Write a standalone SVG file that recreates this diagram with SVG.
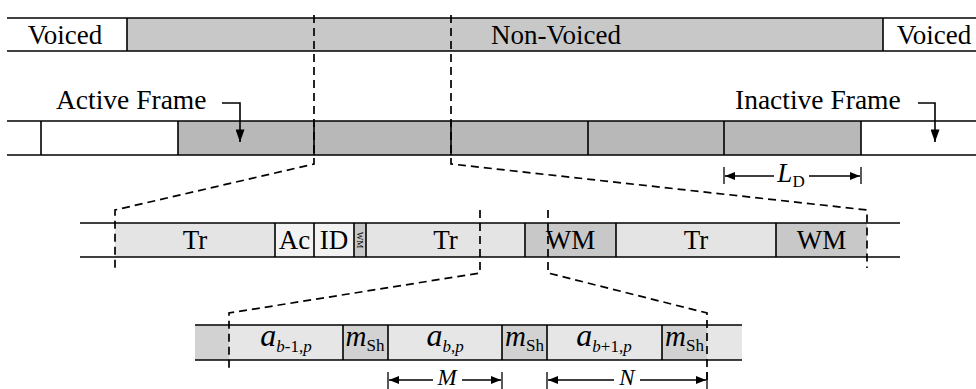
<svg xmlns="http://www.w3.org/2000/svg" width="976" height="389" viewBox="0 0 976 389">
  <style>
    .ln { stroke: #000; stroke-width: 1.6; fill: none; }
    .div { stroke: #000; stroke-width: 1.6; }
    .dash { stroke: #000; stroke-width: 1.7; fill: none; stroke-dasharray: 8 5; }
    .t { font-family: "Liberation Serif", "Times New Roman", serif; font-size: 27px; fill: #000; text-anchor: middle; }
    .tl { font-family: "Liberation Serif", "Times New Roman", serif; font-size: 27.5px; fill: #000; }
    .mi { font-family: "Liberation Serif", "Times New Roman", serif; font-style: italic; }
    .sub { font-family: "Liberation Serif", "Times New Roman", serif; font-size: 17px; }
    .dim { stroke: #000; stroke-width: 1.3; fill: none; }
  </style>
  <defs>
    <marker id="ah" viewBox="0 0 10 10" refX="10" refY="5" markerWidth="10" markerHeight="10" markerUnits="userSpaceOnUse" orient="auto">
      <path d="M0,1 L10,5 L0,9 Z" fill="#000"/>
    </marker>
    <marker id="ahBig" viewBox="0 0 10 14" refX="5" refY="14" markerWidth="9" markerHeight="14" markerUnits="userSpaceOnUse" orient="0">
      <path d="M0,0 L10,0 L5,14 Z" fill="#000"/>
    </marker>
  </defs>

  <!-- Row 1: voicing segments -->
  <g id="voiced-left">
    <rect x="7" y="18" width="120" height="33" fill="#fff"/>
    <text class="t" x="65" y="44">Voiced</text>
  </g>
  <g id="non-voiced">
    <rect x="127" y="18" width="756" height="33" fill="#c8c8c8"/>
    <text class="t" x="556" y="44">Non-Voiced</text>
  </g>
  <g id="voiced-right">
    <rect x="883" y="18" width="93" height="33" fill="#fff"/>
    <text class="t" x="934" y="44">Voiced</text>
  </g>
  <g id="row1-frame">
    <line class="ln" x1="7" y1="18" x2="976" y2="18"/>
    <line class="ln" x1="7" y1="51" x2="976" y2="51"/>
    <line class="div" x1="127" y1="18" x2="127" y2="51"/>
    <line class="div" x1="883" y1="18" x2="883" y2="51"/>
  </g>

  <!-- Row 2: frames -->
  <g id="frames">
    <rect x="178" y="121" width="683" height="34" fill="#b8b8b8"/>
    <line class="ln" x1="7" y1="121" x2="976" y2="121"/>
    <line class="ln" x1="7" y1="155" x2="976" y2="155"/>
    <line class="div" x1="41" y1="121" x2="41" y2="155"/>
    <line class="div" x1="178" y1="121" x2="178" y2="155"/>
    <line class="div" x1="314" y1="121" x2="314" y2="155"/>
    <line class="div" x1="451" y1="121" x2="451" y2="155"/>
    <line class="div" x1="588" y1="121" x2="588" y2="155"/>
    <line class="div" x1="724" y1="121" x2="724" y2="155"/>
    <line class="div" x1="861" y1="121" x2="861" y2="155"/>
  </g>
  <g id="active-frame-label">
    <text class="tl" x="56" y="109">Active Frame</text>
  </g>
  <g id="inactive-frame-label">
    <text class="tl" x="735" y="109">Inactive Frame</text>
  </g>

  <!-- Row 3: frame content -->
  <g id="row3">
    <rect x="115" y="223" width="160" height="34" fill="#e4e4e4"/>
    <rect x="275" y="223" width="39" height="34" fill="#f2f2f2"/>
    <rect x="314" y="223" width="40" height="34" fill="#f2f2f2"/>
    <rect x="354" y="223" width="12" height="34" fill="#c8c8c8"/>
    <rect x="366" y="223" width="159" height="34" fill="#e4e4e4"/>
    <rect x="525" y="223" width="91" height="34" fill="#c8c8c8"/>
    <rect x="616" y="223" width="160" height="34" fill="#e4e4e4"/>
    <rect x="776" y="223" width="91" height="34" fill="#c8c8c8"/>
    <line class="ln" x1="80" y1="223" x2="900" y2="223"/>
    <line class="ln" x1="80" y1="257" x2="900" y2="257"/>
    <line class="div" x1="275" y1="223" x2="275" y2="257"/>
    <line class="div" x1="314" y1="223" x2="314" y2="257"/>
    <line class="div" x1="354" y1="223" x2="354" y2="257"/>
    <line class="div" x1="366" y1="223" x2="366" y2="257"/>
    <line class="div" x1="525" y1="223" x2="525" y2="257"/>
    <line class="div" x1="616" y1="223" x2="616" y2="257"/>
    <line class="div" x1="776" y1="223" x2="776" y2="257"/>
  </g>
  <g id="tr1"><text class="t" x="195" y="249">Tr</text></g>
  <g id="ac"><text class="t" x="294.5" y="249">Ac</text></g>
  <g id="id"><text class="t" x="334" y="249">ID</text></g>
  <g id="wm-small"><text class="t" style="font-size:9px" transform="translate(357,240) rotate(90)">WM</text></g>
  <g id="tr2"><text class="t" x="445.5" y="249">Tr</text></g>
  <g id="wm1"><text class="t" x="570.5" y="249">WM</text></g>
  <g id="tr3"><text class="t" x="696" y="249">Tr</text></g>
  <g id="wm2"><text class="t" x="821.5" y="249">WM</text></g>

  <!-- Row 4: samples -->
  <g id="row4">
    <rect x="195" y="325" width="34" height="35" fill="#d2d2d2"/>
    <rect x="229" y="325" width="114" height="35" fill="#e6e6e6"/>
    <rect x="343" y="325" width="45" height="35" fill="#d2d2d2"/>
    <rect x="388" y="325" width="114" height="35" fill="#e6e6e6"/>
    <rect x="502" y="325" width="45" height="35" fill="#d2d2d2"/>
    <rect x="547" y="325" width="115" height="35" fill="#e6e6e6"/>
    <rect x="662" y="325" width="45" height="35" fill="#d2d2d2"/>
    <rect x="707" y="325" width="35" height="35" fill="#e6e6e6"/>
    <line class="ln" x1="195" y1="325" x2="742" y2="325"/>
    <line class="ln" x1="195" y1="360" x2="742" y2="360"/>
    <line class="div" x1="343" y1="325" x2="343" y2="360"/>
    <line class="div" x1="388" y1="325" x2="388" y2="360"/>
    <line class="div" x1="502" y1="325" x2="502" y2="360"/>
    <line class="div" x1="547" y1="325" x2="547" y2="360"/>
    <line class="div" x1="662" y1="325" x2="662" y2="360"/>
  </g>
  <g id="a-prev">
    <text x="286" y="346" text-anchor="middle"><tspan class="mi" font-size="32">a</tspan><tspan class="sub" dy="6"><tspan class="mi">b</tspan>-1,<tspan class="mi">p</tspan></tspan></text>
  </g>
  <g id="m1">
    <text x="365" y="346" text-anchor="middle"><tspan class="mi" font-size="29">m</tspan><tspan class="sub" dy="5">Sh</tspan></text>
  </g>
  <g id="a-cur">
    <text x="445" y="346" text-anchor="middle"><tspan class="mi" font-size="32">a</tspan><tspan class="sub" dy="6"><tspan class="mi">b</tspan>,<tspan class="mi">p</tspan></tspan></text>
  </g>
  <g id="m2">
    <text x="524.5" y="346" text-anchor="middle"><tspan class="mi" font-size="29">m</tspan><tspan class="sub" dy="5">Sh</tspan></text>
  </g>
  <g id="a-next">
    <text x="604" y="346" text-anchor="middle"><tspan class="mi" font-size="32">a</tspan><tspan class="sub" dy="6"><tspan class="mi">b</tspan>+1,<tspan class="mi">p</tspan></tspan></text>
  </g>
  <g id="m3">
    <text x="684.5" y="346" text-anchor="middle"><tspan class="mi" font-size="29">m</tspan><tspan class="sub" dy="5">Sh</tspan></text>
  </g>

  <!-- Connectors: zoom lines, pointers and dimensions -->
  <g id="connectors">
    <path class="dash" d="M314,15 V164 L115,210 V268"/>
    <path class="dash" d="M451,15 V164 L867,210 V268"/>
    <path class="dash" d="M480,210 V273 L229,313 V372"/>
    <path class="dash" d="M548,210 V273 L707,313 V384"/>

    <path class="ln" d="M222,103 H240 V142" marker-end="url(#ahBig)"/>
    <path class="ln" d="M918,103 H935 V142" marker-end="url(#ahBig)"/>

    <line class="dim" x1="724" y1="167" x2="724" y2="184"/>
    <line class="dim" x1="861" y1="167" x2="861" y2="184"/>
    <line class="dim" x1="774" y1="176" x2="725" y2="176" marker-end="url(#ah)"/>
    <line class="dim" x1="809" y1="176" x2="860" y2="176" marker-end="url(#ah)"/>

    <line class="dim" x1="388" y1="372" x2="388" y2="389"/>
    <line class="dim" x1="502" y1="372" x2="502" y2="389"/>
    <line class="dim" x1="433" y1="380" x2="389" y2="380" marker-end="url(#ah)"/>
    <line class="dim" x1="462" y1="380" x2="501" y2="380" marker-end="url(#ah)"/>

    <line class="dim" x1="547" y1="372" x2="547" y2="389"/>
    <line class="dim" x1="707" y1="372" x2="707" y2="389"/>
    <line class="dim" x1="614" y1="380" x2="548" y2="380" marker-end="url(#ah)"/>
    <line class="dim" x1="640" y1="380" x2="706" y2="380" marker-end="url(#ah)"/>
  </g>

  <g id="label-ld">
    <text x="791" y="182" text-anchor="middle"><tspan class="mi" font-size="27">L</tspan><tspan class="sub" dy="5">D</tspan></text>
  </g>
  <g id="label-m">
    <text class="mi" x="447" y="385" font-size="23" text-anchor="middle">M</text>
  </g>
  <g id="label-n">
    <text class="mi" x="627" y="385" font-size="23" text-anchor="middle">N</text>
  </g>
</svg>
